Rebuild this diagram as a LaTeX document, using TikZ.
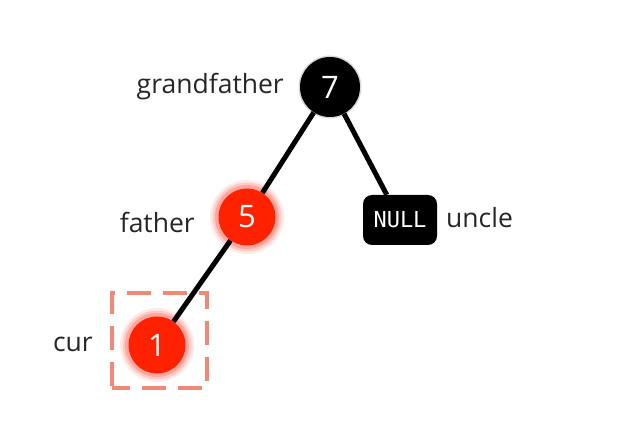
\documentclass[tikz,border=0pt]{standalone}
\usepackage{fontspec}
\setmainfont{Open Sans}
\setmonofont{DejaVu Sans Mono}
\definecolor{rbred}{HTML}{FF2200}
\definecolor{glowred}{HTML}{FF5040}
\definecolor{dashsalmon}{HTML}{F08878}
\begin{document}
\begin{tikzpicture}[x=1pt,y=-1pt,
  lbl/.style={font=\fontsize{26.5}{30}\selectfont, text=black!85, inner sep=0pt},
  num/.style={font=\fontsize{31}{34}\selectfont, text=white, inner sep=0pt},
  blacknode/.style={circle, fill=black, minimum size=60pt, inner sep=0pt, num},
  rednode/.style={circle, fill=rbred, minimum size=57pt, inner sep=0pt, num},
  edge/.style={line width=5pt, black},
  nullbox/.style={rounded corners=9pt, fill=black, minimum width=74pt, minimum height=50pt, inner sep=0pt, text=white, font=\ttfamily\fontsize{22}{24}\selectfont},
  selbox/.style={draw=dashsalmon, line width=4pt, dash pattern=on 24pt off 12pt, dash phase=6pt, minimum size=95pt, inner sep=0pt}
]
\useasboundingbox (0,0) rectangle (627,422);
% glow halos
\foreach \cx/\cy in {247/217, 157/345}{
  \fill[glowred, opacity=0.12] (\cx,\cy) circle (37);
  \fill[glowred, opacity=0.2] (\cx,\cy) circle (34.5);
  \fill[glowred, opacity=0.3] (\cx,\cy) circle (32);
}
\fill[black, opacity=0.15] (330,87) circle (31.5);

\node[blacknode] (g) at (330,87) {7};
\node[rednode] (f) at (247,217) {5};
\node[rednode] (c) at (157,345) {1};
\node[nullbox] (u) at (400,220) {NULL};

\draw[edge] (g) -- (f);
\draw[edge] (g) -- (u);
\draw[edge] (f) -- (c);

\node[selbox] (s) at (159,340.5) {};

\node[lbl, anchor=east] (gl) at (284,87) {grandfather};
\node[lbl, anchor=east] (fl) at (195,222) {father};
\node[lbl, anchor=west] (ul) at (446,218) {uncle};
\node[lbl, anchor=east] (cl) at (93,344) {cur};
\end{tikzpicture}
\end{document}
